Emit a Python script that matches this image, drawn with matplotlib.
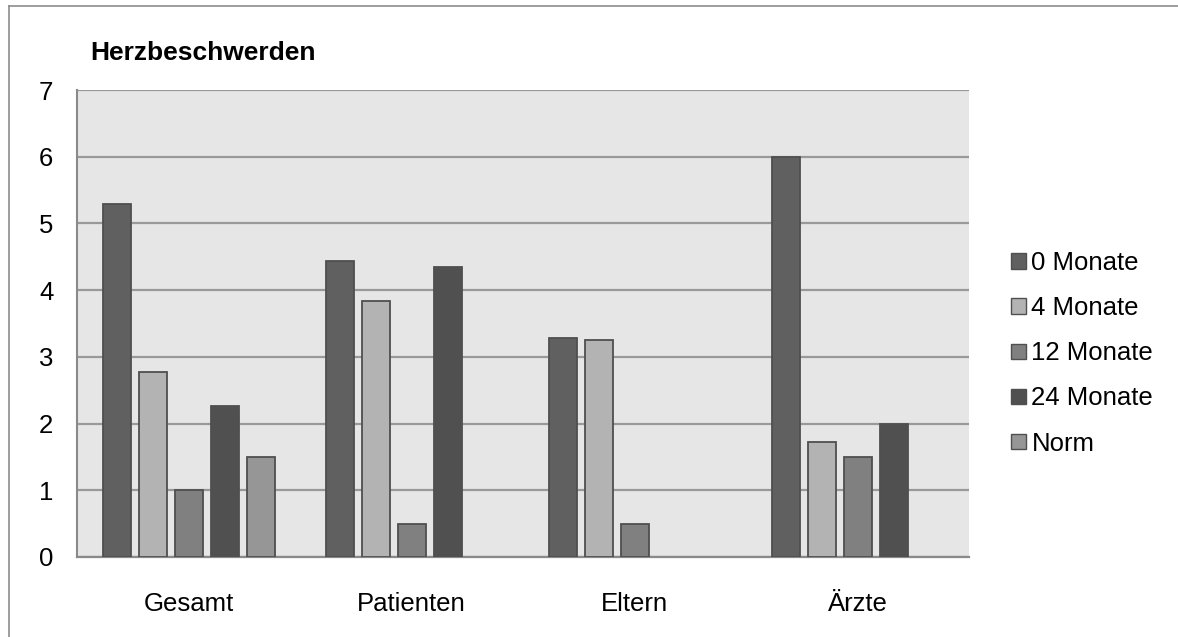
import numpy as np
import matplotlib
matplotlib.use("Agg")
import matplotlib.pyplot as plt
from matplotlib.lines import Line2D

plt.rcParams['font.family'] = ['Liberation Sans', 'DejaVu Sans']

categories = ["Gesamt", "Patienten", "Eltern", "Ärzte"]
series_names = ["0 Monate", "4 Monate", "12 Monate", "24 Monate", "Norm"]
m0 = [5.29, 4.43, 3.29, 6.0]
m4 = [2.77, 3.83, 3.25, 1.73]
m12 = [1.0, 0.5, 0.5, 1.5]
m24 = [2.27, 4.34, np.nan, 2.0]
norm = [1.5, np.nan, np.nan, np.nan]
colors = ["#606060", "#b3b3b3", "#808080", "#505050", "#969696"]

fig = plt.figure(figsize=(11.78, 6.37), dpi=100)
ax = fig.add_axes([77/1178, 1 - 557/637, 892/1178, 467/637])
ax.set_facecolor("#e6e6e6")

x = np.arange(len(categories))
slot = 36/223
w = 28/223
for j, (vals, c) in enumerate(zip([m0, m4, m12, m24, norm], colors)):
    ax.bar(x + (j - 2)*slot, vals, width=w, color=c, edgecolor="#4f4f4f",
           linewidth=1.3, label=series_names[j], zorder=3)

ax.set_xlim(-0.5, 3.5)
ax.set_ylim(0, 7)
ax.set_yticks(range(8))
ax.set_xticks(x)
ax.set_xticklabels(categories)
ax.tick_params(axis="both", length=0, labelsize=18.5)
ax.tick_params(axis="x", pad=25)
ax.tick_params(axis="y", pad=17)
ax.grid(axis="y", color="#999999", linewidth=1.6, zorder=1)
ax.set_axisbelow(True)
for s in ["top", "right"]:
    ax.spines[s].set_visible(False)
ax.spines["left"].set_color("#8a8a8a")
ax.spines["left"].set_linewidth(1.5)
ax.spines["bottom"].set_color("#8a8a8a")
ax.spines["bottom"].set_linewidth(1.6)

fig.text(90/1178, 1 - 53/637, "Herzbeschwerden", fontsize=19, fontweight="bold",
         va="center", ha="left")

leg = ax.legend(loc="center left", bbox_to_anchor=(1.036, 0.436), frameon=False,
                fontsize=18.5, handlelength=0.55, handleheight=0.55,
                handletextpad=0.23, labelspacing=0.82, borderaxespad=0)
for h in leg.legend_handles:
    h.set_linewidth(1.0)

# outer chart frame
fig.add_artist(Line2D([9/1178, 1], [1 - 6/637, 1 - 6/637], color="#8c8c8c",
                      linewidth=1.2, transform=fig.transFigure))
fig.add_artist(Line2D([9/1178, 9/1178], [0, 1 - 6/637], color="#8c8c8c",
                      linewidth=1.2, transform=fig.transFigure))

fig.savefig("out.png", dpi=100)
